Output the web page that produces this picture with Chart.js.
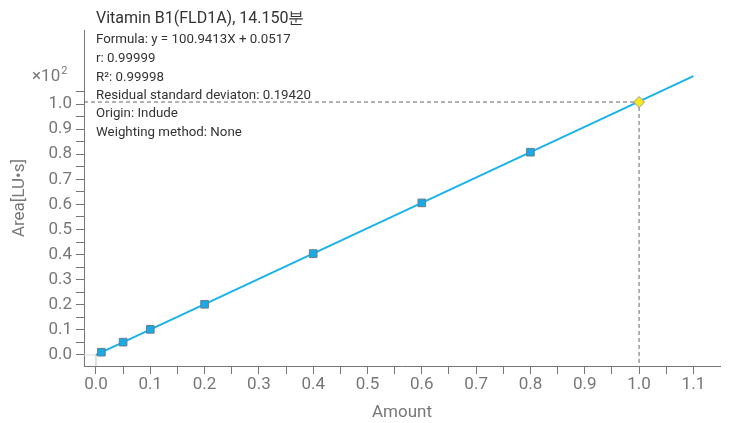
<!DOCTYPE html>
<html>
<head>
<meta charset="utf-8">
<script src="https://cdn.jsdelivr.net/npm/chart.js@4/dist/chart.umd.min.js"></script>
<style>
  html, body { margin: 0; padding: 0; background: #fff; }
  #wrap { width: 732px; height: 423px; position: relative; }
</style>
</head>
<body>
<div id="wrap"><canvas id="chart" width="732" height="423"></canvas></div>
<script>
// calibration points (Area shown in units of x10^2)
const amounts = [0.01, 0.05, 0.1, 0.2, 0.4, 0.6, 0.8]
const areas = [0.011, 0.051, 0.102, 0.202, 0.404, 0.606, 0.808]

// current sample (yellow diamond)
const sampleAmount = [1.0]
const sampleArea = [1.008]

// fitted line ends
const fitAmount = [0, 1.1]
const fitArea = [0.0005, 1.111]

const xTicks = [0, 0.05, 0.1, 0.15, 0.2, 0.25, 0.3, 0.35, 0.4, 0.45, 0.5, 0.55, 0.6, 0.65, 0.7, 0.75, 0.8, 0.85, 0.9, 0.95, 1.0, 1.05, 1.1]
const yTicks = [0, 0.05, 0.1, 0.15, 0.2, 0.25, 0.3, 0.35, 0.4, 0.45, 0.5, 0.55, 0.6, 0.65, 0.7, 0.75, 0.8, 0.85, 0.9, 0.95, 1.0, 1.05]

const title = 'Vitamin B1(FLD1A), 14.150분'
const infoLines = [
    'Formula: y = 100.9413X + 0.0517',
    'r: 0.99999',
    'R²: 0.99998',
    'Residual standard deviaton: 0.19420',
    'Origin: Indude',
    'Weighting method: None'
]

const X_MIN = -0.022, X_MAX = 1.149
const Y_MIN = -0.044, Y_MAX = 1.295

const grey = '#777'
const font = 'Roboto'

const toPts = (xs, ys) => xs.map((x, i) => ({ x: x, y: ys[i] }))

const isMajor = v => Math.abs(v * 10 - Math.round(v * 10)) < 1e-6

const textPlugin = {
    id: 'texts',
    afterDraw(chart) {
        const ctx = chart.ctx
        ctx.save()
        ctx.textBaseline = 'middle'
        ctx.textAlign = 'left'
        ctx.fillStyle = '#333'
        ctx.font = '16px ' + font
        ctx.fillText(title, 96, 19)
        ctx.font = '13.3px ' + font
        const ys = [40, 59, 78, 95.5, 114, 133]
        infoLines.forEach((t, i) => ctx.fillText(t, 96, ys[i]))

        // x10 with raised exponent
        ctx.fillStyle = grey
        ctx.font = '17px ' + font
        ctx.fillText('×10', 32, 77)
        const w = ctx.measureText('×10').width
        ctx.font = '11px ' + font
        ctx.fillText('2', 32 + w + 1, 71)
        ctx.restore()
    }
}

new Chart('chart', {
    type: 'scatter',
    data: {
        datasets: [
            {
                data: toPts(sampleAmount, sampleArea),
                order: 0,
                pointStyle: 'rectRot',
                pointRadius: 5.5,
                backgroundColor: '#f6e81c',
                borderColor: '#999',
                borderWidth: 1
            },
            {
                data: toPts(amounts, areas),
                order: 1,
                pointStyle: 'rect',
                pointRadius: 5.4,
                backgroundColor: '#19aae6',
                borderColor: '#657f8c',
                borderWidth: 1
            },
            {
                data: toPts(fitAmount, fitArea),
                order: 2,
                showLine: true,
                borderColor: '#1ab2ea',
                borderWidth: 2,
                pointRadius: 0
            },
            {
                // dashed guides to the sample point
                data: [{ x: X_MIN, y: sampleArea[0] }, { x: sampleAmount[0], y: sampleArea[0] }, { x: sampleAmount[0], y: Y_MIN }],
                order: 3,
                showLine: true,
                borderColor: '#666',
                borderWidth: 1,
                borderDash: [4, 3],
                pointRadius: 0
            },
            {
                // faint origin guide
                data: [{ x: X_MIN, y: 0 }, { x: 0, y: 0 }, { x: 0, y: Y_MIN }],
                order: 4,
                showLine: true,
                borderColor: '#dcdcdc',
                borderWidth: 1,
                pointRadius: 0
            }
        ]
    },
    options: {
        responsive: false,
        animation: false,
        layout: { padding: { left: 0, top: 30, right: 12, bottom: 0 } },
        plugins: {
            legend: { display: false },
            tooltip: { enabled: false }
        },
        scales: {
            x: {
                type: 'linear',
                min: X_MIN,
                max: X_MAX,
                afterBuildTicks: axis => { axis.ticks = xTicks.map(v => ({ value: v })) },
                afterFit: axis => { axis.height = 57 },
                border: { display: true, color: grey, width: 1 },
                grid: { display: true, drawOnChartArea: false, drawTicks: true, tickLength: 8, color: grey },
                ticks: {
                    autoSkip: false,
                    maxRotation: 0,
                    padding: 1,
                    color: grey,
                    font: { family: font, size: 17 },
                    callback: v => isMajor(v) ? v.toFixed(1) : ''
                },
                title: {
                    display: true,
                    text: 'Amount',
                    color: grey,
                    font: { family: font, size: 17 },
                    padding: { top: 0, bottom: 0 }
                }
            },
            y: {
                type: 'linear',
                min: Y_MIN,
                max: Y_MAX,
                afterBuildTicks: axis => { axis.ticks = yTicks.map(v => ({ value: v })) },
                afterFit: axis => { axis.width = 84 },
                border: { display: true, color: grey, width: 1 },
                grid: { display: true, drawOnChartArea: false, drawTicks: true, tickLength: 8, color: grey },
                ticks: {
                    autoSkip: false,
                    padding: 4,
                    color: grey,
                    font: { family: font, size: 17 },
                    callback: v => isMajor(v) ? v.toFixed(1) : ''
                },
                title: {
                    display: true,
                    text: 'Area[LU•s]',
                    color: grey,
                    font: { family: font, size: 17 },
                    padding: { top: 10, bottom: 0 }
                }
            }
        }
    },
    plugins: [textPlugin]
})
</script>
</body>
</html>
